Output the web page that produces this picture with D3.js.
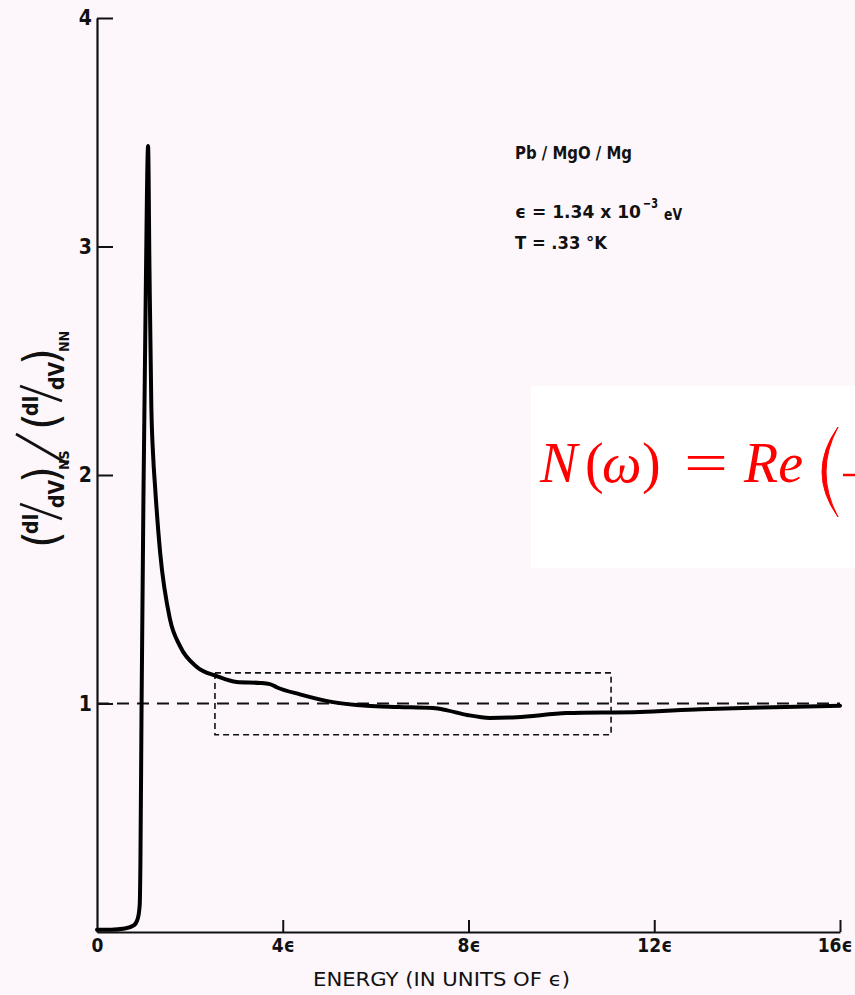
<!DOCTYPE html>
<html>
<head>
<meta charset="utf-8">
<script src="https://cdn.jsdelivr.net/npm/d3@7"></script>
<style>
  body { margin: 0; background: #fdf7fc; }
  svg { display: block; }
  .lettering { font-family: "Liberation Sans Narrow", "DejaVu Sans Condensed", "Liberation Sans", sans-serif; fill: #111; }
</style>
</head>
<body>
<svg id="chart" width="855" height="995"></svg>
<script>
// curve (energy in units of eps, conductance ratio)
const energy = [0, 0.3, 0.6, 0.8, 0.88, 0.92, 0.935, 0.96, 1.0, 1.05,
                1.1, 1.13, 1.17, 1.21, 1.25, 1.36, 1.57, 1.79, 2.15, 2.58,
                3.01, 3.51, 3.72, 3.88, 4.37, 5.08, 5.81, 6.5, 7.24, 7.54,
                7.97, 8.46, 9.04, 10.12, 11.69, 13.0, 14.3, 16.0]
const ratio = [0.01, 0.01, 0.015, 0.03, 0.06, 0.12, 0.3, 1.0, 1.9, 2.8,
               3.44, 2.9, 2.3, 2.08, 1.95, 1.66, 1.37, 1.25, 1.16, 1.12,
               1.094, 1.09, 1.085, 1.07, 1.04, 1.006, 0.99, 0.985, 0.98, 0.97,
               0.95, 0.937, 0.94, 0.958, 0.963, 0.975, 0.982, 0.99]

const xTicks = [0, 4, 8, 12, 16]
const xTickLabels = ["0", "4ϵ", "8ϵ", "12ϵ", "16ϵ"]
const yTicks = [1, 2, 3, 4]
const yTickLabels = ["1", "2", "3", "4"]
const boxX = [2.54, 11.07]   // dashed highlight box, energy range
const boxY = [0.863, 1.134]  // dashed highlight box, ratio range

const svg = d3.select("#chart")

const x = d3.scaleLinear().domain([0, 16]).range([97, 840])
const y = d3.scaleLinear().domain([0, 4]).range([932, 18])

// x axis, ticks point up into the plot
const xAxis = svg.append("g")
    .attr("transform", "translate(0," + y(0) + ")")
    .call(d3.axisBottom(x).tickValues(xTicks).tickSize(-12).tickSizeOuter(0).tickPadding(7)
        .tickFormat((d, i) => xTickLabels[i]))
xAxis.select(".domain").attr("stroke", "#111").attr("stroke-width", 2.2)
xAxis.selectAll(".tick line").attr("stroke", "#111").attr("stroke-width", 2)
    .attr("opacity", d => d === 0 ? 0 : 1)
xAxis.selectAll(".tick text").attr("class", "lettering")
    .style("font-size", "19px").style("font-weight", "bold").attr("fill", "#111")
    .attr("text-anchor", d => d === 16 ? "end" : "middle")
    .attr("dx", d => d === 16 ? 12 : 0)

// y axis, ticks point right
const yAxis = svg.append("g")
    .attr("transform", "translate(" + x(0) + ",0)")
    .call(d3.axisLeft(y).tickValues(yTicks).tickSize(-16).tickSizeOuter(0).tickPadding(5)
        .tickFormat((d, i) => yTickLabels[i]))
yAxis.select(".domain").attr("stroke", "#111").attr("stroke-width", 2.2)
yAxis.selectAll(".tick line").attr("stroke", "#111").attr("stroke-width", 2)
yAxis.selectAll(".tick text").attr("class", "lettering")
    .style("font-size", "21px").style("font-weight", "bold").attr("fill", "#111")

// reference line at 1
svg.append("line")
    .attr("x1", x(0)).attr("x2", x(16))
    .attr("y1", y(1)).attr("y2", y(1))
    .attr("stroke", "#111").attr("stroke-width", 2)
    .attr("stroke-dasharray", "12,8")

// dashed box
svg.append("rect")
    .attr("x", x(boxX[0])).attr("y", y(boxY[1]))
    .attr("width", x(boxX[1]) - x(boxX[0]))
    .attr("height", y(boxY[0]) - y(boxY[1]))
    .attr("fill", "none").attr("stroke", "#111").attr("stroke-width", 1.6)
    .attr("stroke-dasharray", "6,4")

// the curve
const pts = energy.map((e, i) => [e, ratio[i]])
const line = d3.line().x(d => x(d[0])).y(d => y(d[1])).curve(d3.curveMonotoneX)
svg.append("path")
    .datum(pts)
    .attr("d", line)
    .attr("fill", "none").attr("stroke", "#000")
    .attr("stroke-width", 4).attr("stroke-linejoin", "round").attr("stroke-linecap", "round")

// x axis title
svg.append("text").attr("class", "lettering")
    .attr("x", 313).attr("y", 986)
    .attr("textLength", 257).attr("lengthAdjust", "spacingAndGlyphs")
    .style("font-size", "20px")
    .text("ENERGY  (IN  UNITS  OF  ϵ)")

// y axis title, rotated slanted fractions
const yl = svg.append("g").attr("transform", "translate(42,548) rotate(-90)")
function fracGroup(g, x0, sub) {
    g.append("text").attr("class", "lettering").attr("x", x0).attr("y", 16)
        .style("font-size", "48px").style("font-weight", "300").text("(")
    g.append("text").attr("class", "lettering").attr("x", x0 + 14).attr("y", -4)
        .style("font-size", "21px").style("font-weight", "bold").text("dI")
    g.append("line").attr("x1", x0 + 29).attr("y1", 20).attr("x2", x0 + 44).attr("y2", -22)
        .attr("stroke", "#111").attr("stroke-width", 2.4)
    g.append("text").attr("class", "lettering").attr("x", x0 + 40).attr("y", 22)
        .style("font-size", "21px").style("font-weight", "bold").text("dV")
    g.append("text").attr("class", "lettering").attr("x", x0 + 65).attr("y", 16)
        .style("font-size", "48px").style("font-weight", "300").text(")")
    g.append("text").attr("class", "lettering").attr("x", x0 + 78).attr("y", 27)
        .style("font-size", "14px").style("font-weight", "bold").text(sub)
}
fracGroup(yl, 0, "NS")
yl.append("line").attr("x1", 84).attr("y1", 26).attr("x2", 114).attr("y2", -26)
    .attr("stroke", "#111").attr("stroke-width", 2.6)
fracGroup(yl, 118, "NN")

// annotation
const note = svg.append("g")
note.append("text").attr("class", "lettering")
    .attr("x", 515).attr("y", 159).attr("textLength", 117).attr("lengthAdjust", "spacingAndGlyphs")
    .style("font-size", "18px").style("font-weight", "bold")
    .text("Pb / MgO / Mg")
note.append("text").attr("class", "lettering")
    .attr("x", 515).attr("y", 218).attr("textLength", 126).attr("lengthAdjust", "spacingAndGlyphs")
    .style("font-size", "18px").style("font-weight", "bold")
    .text("ϵ = 1.34 x 10")
note.append("text").attr("class", "lettering")
    .attr("x", 643).attr("y", 208).attr("textLength", 15).attr("lengthAdjust", "spacingAndGlyphs")
    .style("font-size", "14px").style("font-weight", "bold")
    .text("−3")
note.append("text").attr("class", "lettering")
    .attr("x", 664).attr("y", 220).attr("textLength", 18).attr("lengthAdjust", "spacingAndGlyphs")
    .style("font-size", "16px").style("font-weight", "bold")
    .text("eV")
note.append("text").attr("class", "lettering")
    .attr("x", 515).attr("y", 249).attr("textLength", 92).attr("lengthAdjust", "spacingAndGlyphs")
    .style("font-size", "18px").style("font-weight", "bold")
    .text("T = .33 °K")

// pasted formula box
const fb = svg.append("g")
fb.append("rect").attr("x", 531).attr("y", 386).attr("width", 330).attr("height", 182).attr("fill", "#fff")
const ft = fb.append("text").attr("y", 482)
    .style("font-family", "'Liberation Serif', 'DejaVu Serif', serif")
    .style("font-size", "56px").attr("fill", "#f00")
ft.append("tspan").attr("x", 540).style("font-style", "italic").text("N")
ft.append("tspan").attr("x", 585).text("(")
ft.append("tspan").attr("x", 602).style("font-style", "italic").text("ω")
ft.append("tspan").attr("x", 642).text(")")
ft.append("tspan").attr("x", 684).attr("textLength", 44).attr("lengthAdjust", "spacingAndGlyphs").text("=")
ft.append("tspan").attr("x", 744).style("font-style", "italic").text("Re")
fb.append("path")
    .attr("d", "M838,427 Q806,472 838,517 Q814,472 838,427 Z")
    .attr("fill", "#f00").attr("stroke", "#f00").attr("stroke-width", 1)
fb.append("line").attr("x1", 843).attr("x2", 856).attr("y1", 475).attr("y2", 475)
    .attr("stroke", "#f00").attr("stroke-width", 2.5)
</script>
</body>
</html>
